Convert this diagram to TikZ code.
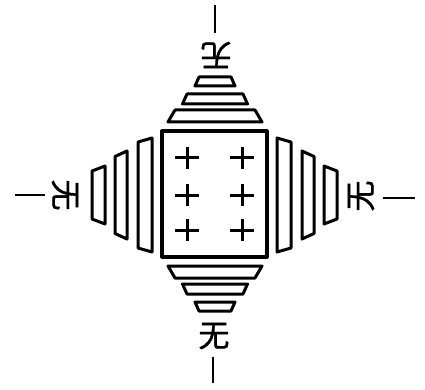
\documentclass[tikz,border=0pt]{standalone}
\usepackage{fontspec}
\newfontfamily\cjk[FakeBold=1.2]{Noto Sans CJK SC}

\begin{document}
\begin{tikzpicture}[
    x=1pt, y=-1pt,
    block/.style={line width=3pt, line join=round},
    crossmark/.style={line width=3pt},
    tick/.style={line width=2.6pt},
    glyph/.style={font=\cjk\fontsize{31}{31}\selectfont, inner sep=0pt}
]
\useasboundingbox (0,0) rectangle (425,390);

% central field with six crosses
\draw[block, line width=3.2pt] (162,131) rectangle (267,257);
\foreach \px in {187,242}
  \foreach \py in {158,195,230}
    \draw[crossmark] (\px-12,\py) -- (\px+12,\py) (\px,\py-11) -- (\px,\py+11);

% upper and lower steps (gap / thickness / near half / far half)
\foreach \d/\t/\n/\f in {9/12/47/40, 27/10/32.5/28, 45/9/20/16} {
  \draw[block] (215-\n,131-\d) -- (215+\n,131-\d) -- (215+\f,131-\d-\t) -- (215-\f,131-\d-\t) -- cycle;
  \draw[block] (215-\n,257+\d) -- (215+\n,257+\d) -- (215+\f,257+\d+\t) -- (215-\f,257+\d+\t) -- cycle;
}
% left and right steps
\foreach \d/\t/\n/\f in {10/14/57/53, 35/12/44/38.5, 57/13/29/24} {
  \draw[block] (162-\d,195-\n) -- (162-\d,195+\n) -- (162-\d-\t,195+\f) -- (162-\d-\t,195-\f) -- cycle;
  \draw[block] (267+\d,195-\n) -- (267+\d,195+\n) -- (267+\d+\t,195+\f) -- (267+\d+\t,195-\f) -- cycle;
}

% the four characters
\node[glyph, rotate=180] (wuN) at (216,55) {无};
\node[glyph] (wuS) at (214,336) {无};
\node[glyph, rotate=-90] (wuW) at (65,195) {无};
\node[glyph, rotate=90] (wuE) at (361,196) {无};

% outer strokes
\draw[tick] (215,5) -- (215,33);
\draw[tick] (213,357) -- (213,383);
\draw[tick] (15,195) -- (45,195);
\draw[tick] (383,198) -- (415,198);
\end{tikzpicture}
\end{document}
